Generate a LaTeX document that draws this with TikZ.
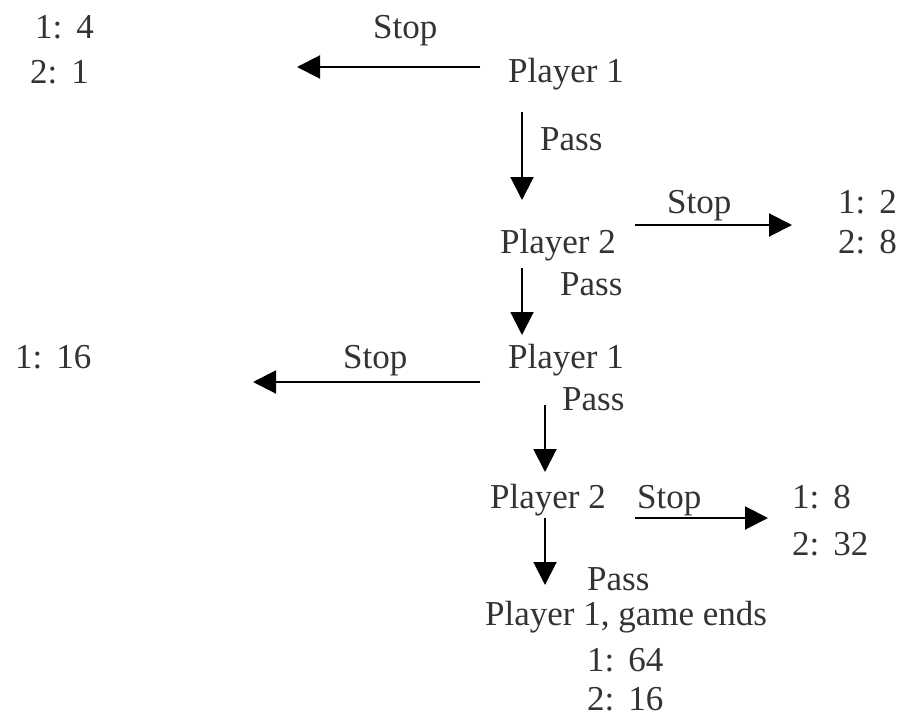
\documentclass[tikz,border=0pt]{standalone}
\usepackage{fontspec}
\setmainfont{Liberation Serif}
\usetikzlibrary{arrows.meta}
\definecolor{txt}{HTML}{333333}
\newcommand{\gp}{\hspace{0.4em}}
\begin{document}
\begin{tikzpicture}[x=1pt,y=-1pt,
  lbl/.style={inner sep=0pt, anchor=base west, text=txt, font=\fontsize{35}{40}\selectfont},
  arr/.style={line width=2pt, -{Triangle[length=23pt,width=23pt]}}]
\useasboundingbox (0,0) rectangle (901,717);
% texts
\node[lbl] (a14) at (35,38) {1:\gp 4};
\node[lbl] (a21) at (30,83) {2:\gp 1};
\node[lbl] (s1) at (373,38) {Stop};
\node[lbl] (p1) at (508,82) {Player 1};
\node[lbl] (pa1) at (540,150) {Pass};
\node[lbl] (p2) at (500,253) {Player 2};
\node[lbl] (s2) at (667,213) {Stop};
\node[lbl] (b12) at (838,213) {1:\gp 2};
\node[lbl] (b28) at (838,253) {2:\gp 8};
\node[lbl] (pa2) at (560,295) {Pass};
\node[lbl] (p3) at (508,368) {Player 1};
\node[lbl] (s3) at (343,368) {Stop};
\node[lbl] (c116) at (15,368) {1:\gp 16};
\node[lbl] (pa3) at (562,410) {Pass};
\node[lbl] (p4) at (490,508) {Player 2};
\node[lbl] (s4) at (637,508) {Stop};
\node[lbl] (d18) at (792,508) {1:\gp 8};
\node[lbl] (d232) at (792,555) {2:\gp 32};
\node[lbl] (pa4) at (587,590) {Pass};
\node[lbl] (p5) at (485,625) {Player 1, game ends};
\node[lbl] (e164) at (587,671) {1:\gp 64};
\node[lbl] (e216) at (587,710) {2:\gp 16};
% arrow end points
\coordinate (l1s) at (480,67);  \coordinate (l1e) at (297,67);
\coordinate (d1s) at (522,112); \coordinate (d1e) at (522,200);
\coordinate (r2s) at (635,225); \coordinate (r2e) at (792,225);
\coordinate (d2s) at (522,268); \coordinate (d2e) at (522,335);
\coordinate (l3s) at (480,382); \coordinate (l3e) at (253,382);
\coordinate (d3s) at (545,405); \coordinate (d3e) at (545,472);
\coordinate (r4s) at (635,518); \coordinate (r4e) at (768,518);
\coordinate (d4s) at (545,518); \coordinate (d4e) at (545,585);
% arrows
\draw[arr] (l1s) -- (l1e);
\draw[arr] (d1s) -- (d1e);
\draw[arr] (r2s) -- (r2e);
\draw[arr] (d2s) -- (d2e);
\draw[arr] (l3s) -- (l3e);
\draw[arr] (d3s) -- (d3e);
\draw[arr] (r4s) -- (r4e);
\draw[arr] (d4s) -- (d4e);
\end{tikzpicture}
\end{document}
